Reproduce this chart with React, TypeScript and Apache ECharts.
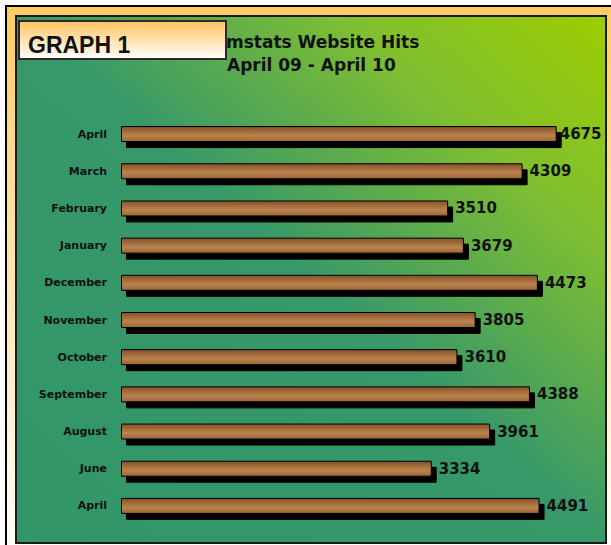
import React, { useEffect, useRef } from "react";
import * as echarts from "echarts";

const categories = [
  "April",
  "March",
  "February",
  "January",
  "December",
  "November",
  "October",
  "September",
  "August",
  "June",
  "April",
];
const hits = [4675, 4309, 3510, 3679, 4473, 3805, 3610, 4388, 3961, 3334, 4491];
const badgeText = "GRAPH 1";
const titleText = "mstats Website Hits";
const subtitleText = "April 09 - April 10";

export default function App() {
  const ref = useRef<HTMLDivElement>(null);

  useEffect(() => {
    document.body.style.margin = "0";
    if (!ref.current) return;
    const chart = echarts.init(ref.current, undefined, { renderer: "svg" });
    const maxVal = Math.max(...hits);
    const barFill = new echarts.graphic.LinearGradient(0, 0, 0, 1, [
      { offset: 0, color: "#84502a" },
      { offset: 0.3, color: "#a26a3a" },
      { offset: 0.6, color: "#b9844f" },
      { offset: 1, color: "#9c6436" },
    ]);
    chart.setOption({
      animation: false,
      backgroundColor: "#ffffff",
      graphic: [
        {
          type: "rect",
          z: -10,
          shape: { x: 6, y: 6, width: 620, height: 560 },
          style: {
            fill: new echarts.graphic.LinearGradient(0, 0, 0, 1, [
              { offset: 0, color: "#ffcc66" },
              { offset: 1, color: "#ffffff" },
            ]),
            stroke: "#000000",
            lineWidth: 2,
          },
        },
        {
          type: "rect",
          z: -9,
          shape: { x: 16, y: 16, width: 590, height: 527 },
          style: {
            fill: new echarts.graphic.LinearGradient(1, 0, 0, 1, [
              { offset: 0, color: "#9dcd00" },
              { offset: 0.22, color: "#80bf30" },
              { offset: 0.5, color: "#37986a" },
              { offset: 1, color: "#329668" },
            ]),
            stroke: "#1a1a1a",
            lineWidth: 2,
          },
        },
        {
          type: "text",
          z: 5,
          x: 226,
          y: 42,
          style: {
            text: titleText,
            fill: "#111111",
            font: "bold 17px 'DejaVu Sans'",
            align: "left",
            verticalAlign: "middle",
          },
        },
        {
          type: "text",
          z: 5,
          x: 227,
          y: 65,
          style: {
            text: subtitleText,
            fill: "#111111",
            font: "bold 17px 'DejaVu Sans'",
            align: "left",
            verticalAlign: "middle",
          },
        },
        {
          type: "rect",
          z: 10,
          shape: { x: 19, y: 21, width: 207, height: 38 },
          style: {
            fill: new echarts.graphic.LinearGradient(0, 0, 0, 1, [
              { offset: 0, color: "#ffc460" },
              { offset: 1, color: "#ffffff" },
            ]),
            stroke: "#2a2a2a",
            lineWidth: 2,
          },
        },
        {
          type: "text",
          z: 11,
          x: 28,
          y: 45,
          style: {
            text: badgeText,
            fill: "#111111",
            font: "bold 23px 'Liberation Sans'",
            align: "left",
            verticalAlign: "middle",
          },
        },
      ],
      grid: { left: 121, width: 466, top: 115.5, height: 409 },
      xAxis: {
        type: "value",
        min: 0,
        max: 5000,
        show: false,
      },
      yAxis: {
        type: "category",
        data: categories,
        inverse: true,
        z: 4,
        axisLine: { show: false },
        axisTick: { show: false },
        splitLine: { show: false },
        axisLabel: {
          margin: 14,
          color: "#111111",
          fontFamily: "DejaVu Sans",
          fontWeight: "bold",
          fontSize: 11,
        },
      },
      series: [
        {
          type: "bar",
          z: 4,
          barWidth: 16,
          data: hits.map((v) =>
            v === maxVal ? { value: v, label: { distance: 3 } } : v
          ),
          itemStyle: {
            color: barFill,
            borderColor: "#000000",
            borderWidth: 1,
            shadowColor: "#000000",
            shadowBlur: 0,
            shadowOffsetX: 5,
            shadowOffsetY: 6,
          },
          label: {
            show: true,
            position: "right",
            distance: 7,
            color: "#111111",
            fontFamily: "DejaVu Sans",
            fontWeight: "bold",
            fontSize: 15,
          },
        },
      ],
    });
    return () => chart.dispose();
  }, []);

  return <div ref={ref} style={{ width: 611, height: 545 }} />;
}
